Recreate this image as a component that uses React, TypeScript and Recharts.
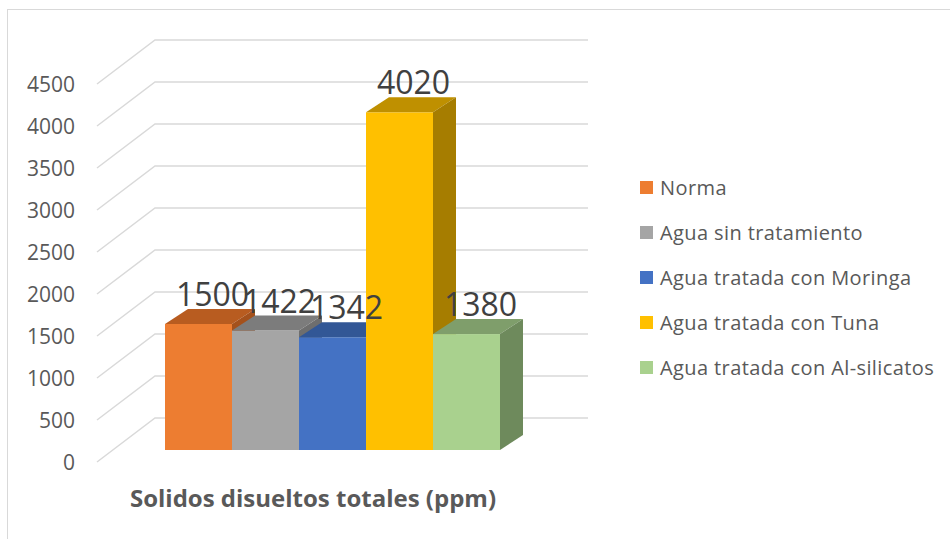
import { BarChart, Bar, YAxis, XAxis, CartesianGrid, LabelList } from "recharts";

const categories = ["Solidos disueltos totales (ppm)"];
const seriesNames = [
  "Norma",
  "Agua sin tratamiento",
  "Agua tratada con Moringa",
  "Agua tratada con Tuna",
  "Agua tratada con Al-silicatos",
];
const seriesValues = [1500, 1422, 1342, 4020, 1380];
const yTicks = [0, 500, 1000, 1500, 2000, 2500, 3000, 3500, 4000, 4500];

// front / top / side colours for each series
const frontColors = ["#ED7D31", "#A5A5A5", "#4472C4", "#FFC000", "#A9D18E"];
const topColors = ["#B85C20", "#7C7C7C", "#325796", "#BF9000", "#7F9E6B"];
const sideColors = ["#A4511C", "#6E6E6E", "#2C4D85", "#A67D00", "#6E8A5C"];

const data = categories.map((name) => {
  const row: Record<string, string | number> = { name };
  seriesNames.forEach((s, i) => (row[s] = seriesValues[i]));
  return row;
});

const DX = 23;
const DY = 15;
const TEXT = "#595959";
const FONT = "'Open Sans', 'Noto Sans', sans-serif";

function box3d(i: number) {
  return (props: any) => {
    const { x, y, width, height } = props;
    const b = y + height;
    return (
      <g>
        <rect x={x} y={y} width={width} height={height} fill={frontColors[i]} />
        <path
          d={`M${x},${y} L${x + DX},${y - DY} L${x + width + DX},${y - DY} L${x + width},${y} Z`}
          fill={topColors[i]}
        />
        <path
          d={`M${x + width},${y} L${x + width + DX},${y - DY} L${x + width + DX},${b - DY} L${x + width},${b} Z`}
          fill={sideColors[i]}
        />
      </g>
    );
  };
}

function GridLine(props: any) {
  const { x1, x2, y1 } = props;
  const fy = y1 + 12;
  const by = y1 - 32;
  return (
    <path
      key={props.key}
      d={`M${x1},${fy} L${x1 + 58},${by} L${x2 + 22},${by}`}
      fill="none"
      stroke="#D9D9D9"
      strokeWidth={1.5}
    />
  );
}

function YTick(props: any) {
  const { y, payload } = props;
  return (
    <text x={75} y={y + 12} dy="0.36em" textAnchor="end" fill={TEXT} fontSize={21} fontFamily={FONT}>
      {payload.value}
    </text>
  );
}

function ValueLabel(props: any) {
  const { x, y, width, value } = props;
  return (
    <text
      x={x + width / 2 + 14}
      y={y - DY - 3}
      textAnchor="middle"
      fill="#404040"
      fontSize={32}
      fontFamily={FONT}
    >
      {value}
    </text>
  );
}

export default function App() {
  return (
    <div
      style={{
        position: "absolute",
        left: 0,
        top: 0,
        width: 950,
        height: 539,
        background: "#fff",
        overflow: "hidden",
        fontFamily: FONT,
      }}
    >
      <div
        style={{
          position: "absolute",
          left: 7,
          top: 9,
          width: 960,
          height: 560,
          border: "1.5px solid #D9D9D9",
        }}
      />
      <BarChart
        width={950}
        height={539}
        data={data}
        margin={{ top: 72, right: 384, bottom: 89, left: 0 }}
        barCategoryGap={68}
        barGap={0}
        style={{ position: "absolute", left: 0, top: 0 }}
      >
        <CartesianGrid vertical={false} horizontal={GridLine} />
        <XAxis dataKey="name" hide />
        <YAxis
          domain={[0, 4500]}
          ticks={yTicks}
          width={97}
          axisLine={false}
          tickLine={false}
          tick={YTick}
          interval={0}
        />
        {seriesNames.map((s, i) => (
          <Bar key={s} dataKey={s} fill={frontColors[i]} shape={box3d(i)} isAnimationActive={false}>
            <LabelList dataKey={s} content={ValueLabel} />
          </Bar>
        ))}
      </BarChart>
      <div
        style={{
          position: "absolute",
          left: 100,
          width: 426,
          top: 481,
          textAlign: "center",
          fontWeight: 700,
          fontSize: 24,
          color: TEXT,
          whiteSpace: "nowrap",
        }}
      >
        {categories[0]}
      </div>
      <div style={{ position: "absolute", left: 640, top: 165 }}>
        {seriesNames.map((s, i) => (
          <div
            key={s}
            style={{
              display: "flex",
              alignItems: "center",
              height: 45,
              fontSize: 20,
              letterSpacing: 0.4,
              color: TEXT,
              whiteSpace: "nowrap",
            }}
          >
            <span style={{ display: "inline-block", width: 13, height: 13, background: frontColors[i], marginRight: 7 }} />
            {s}
          </div>
        ))}
      </div>
    </div>
  );
}
